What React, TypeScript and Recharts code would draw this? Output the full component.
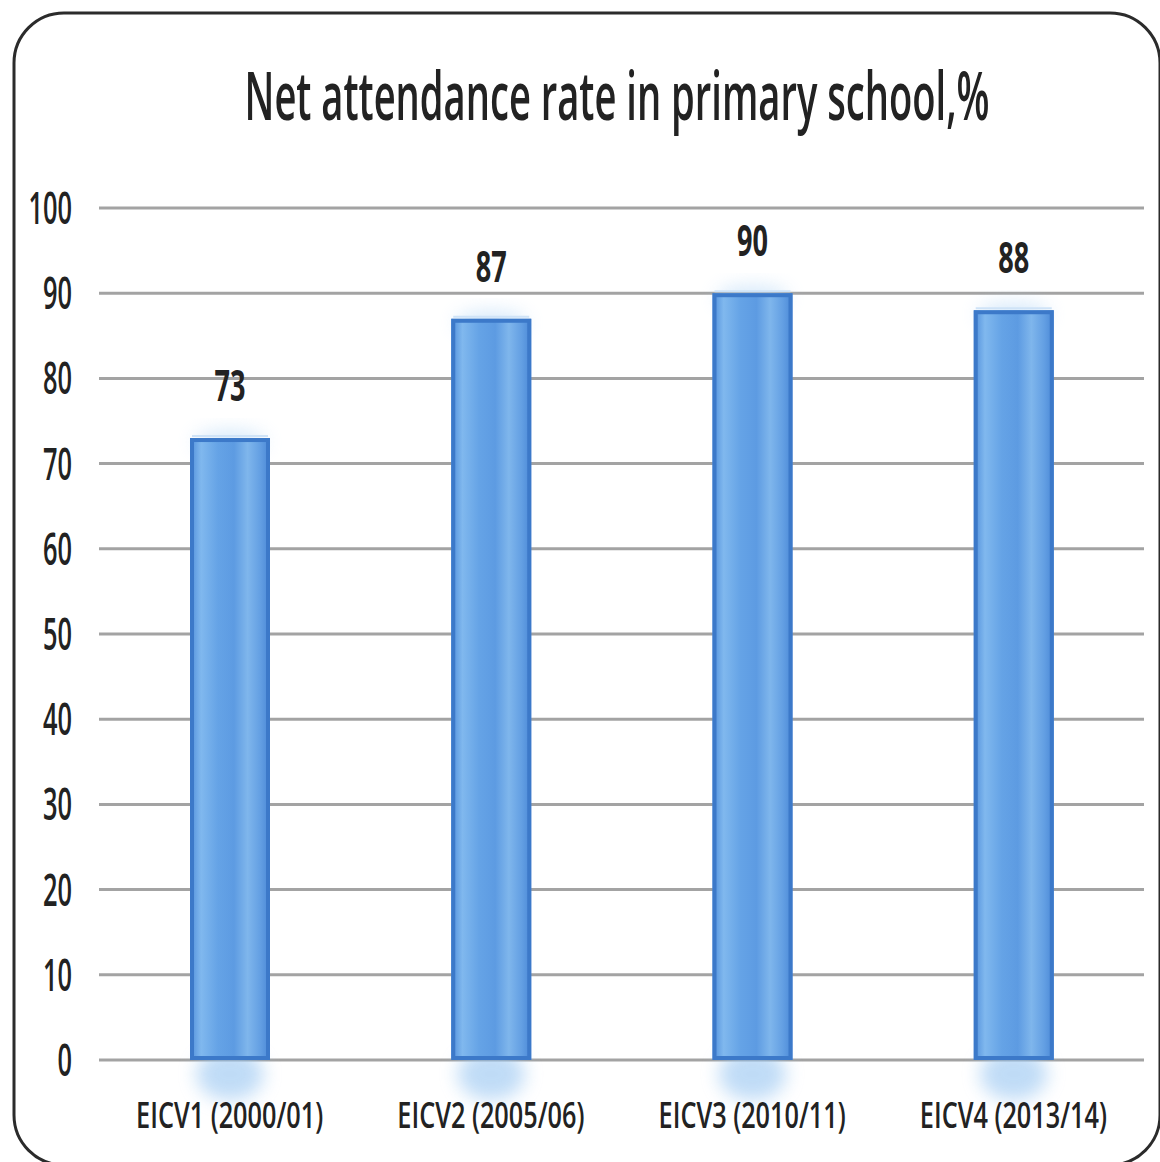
import React from 'react';
import { BarChart, Bar, XAxis, YAxis, CartesianGrid, LabelList } from 'recharts';

// survey rounds and net attendance rate (%)
const surveys = ['EICV1 (2000/01)', 'EICV2 (2005/06)', 'EICV3 (2010/11)', 'EICV4 (2013/14)'];
const attendance = [73, 87, 90, 88];
const yTicks = [0, 10, 20, 30, 40, 50, 60, 70, 80, 90, 100];

const data = surveys.map((name, i) => ({ name, value: attendance[i] }));

const FONT = '"Open Sans", Lato, sans-serif';
const INK = '#222';
const STRETCH = 1.8; // tall, narrow lettering

// text drawn at (x, y) baseline, stretched vertically
function TallText({ x, y, size, length, anchor = 'middle', weight = 600, children }: any) {
  return (
    <g transform={`translate(${x},${y}) scale(1,${STRETCH})`}>
      <text
        x={0}
        y={0}
        textAnchor={anchor}
        fontSize={size}
        fontWeight={weight}
        fill={INK}
        fontFamily={FONT}
        textLength={length}
        lengthAdjust="spacingAndGlyphs"
      >
        {children}
      </text>
    </g>
  );
}

function YTick({ x, y, payload }: any) {
  const label = String(payload.value);
  return (
    <TallText x={x} y={y + 16} size={25.5} length={label.length * 14.5} anchor="end">
      {label}
    </TallText>
  );
}

function XTick({ x, y, payload }: any) {
  const label = String(payload.value);
  return (
    <TallText x={x} y={y + 68} size={20.5} length={label.length * 12.47}>
      {label}
    </TallText>
  );
}

function ValueLabel({ x, y, width, value }: any) {
  const label = String(value);
  return (
    <TallText x={x + width / 2} y={y - 37} size={23.5} length={label.length * 15.5} weight={700}>
      {label}
    </TallText>
  );
}

// hand-drawn looking bar: soft glow at the foot, streaked fill, heavy outline
function SketchBar({ x, y, width, height }: any) {
  const cx = x + width / 2;
  const bottom = y + height;
  return (
    <g>
      <ellipse cx={cx} cy={bottom + 14} rx={width * 0.42} ry={26} fill="#8cbff0" opacity={0.55} filter="url(#haze)" />
      <ellipse cx={cx} cy={y + 4} rx={width * 0.45} ry={12} fill="#a9d0f5" opacity={0.45} filter="url(#haze)" />
      <rect x={x} y={y} width={width} height={height} fill="url(#barFill)" />
      <rect x={x + 2} y={y + 2} width={width - 4} height={height - 4} fill="none" stroke="#3c79c9" strokeWidth={4} />
      <line x1={x + 2} y1={y - 2} x2={x + width - 2} y2={y - 2} stroke="#cfe3f7" strokeWidth={2} />
    </g>
  );
}

export default function App() {
  return (
    <div style={{ position: 'absolute', left: 0, top: 0, width: 1160, height: 1162, background: '#fff' }}>
      <svg width={1160} height={1162} style={{ position: 'absolute', left: 0, top: 0 }}>
        <rect x={14} y={13} width={1146} height={1152} rx={50} fill="none" stroke="#2b2b2b" strokeWidth={3} />
        <TallText x={617} y={120} size={37} length={745}>
          Net attendance rate in primary school,%
        </TallText>
      </svg>
      <div style={{ position: 'absolute', left: 0, top: 0 }}>
        <BarChart
          width={1160}
          height={1162}
          data={data}
          margin={{ top: 208, right: 16, bottom: 42, left: 0 }}
          barSize={80}
        >
          <defs>
            <linearGradient id="barFill" x1="0" y1="0" x2="1" y2="0">
              <stop offset="0%" stopColor="#4f8edb" />
              <stop offset="14%" stopColor="#80b8ee" />
              <stop offset="35%" stopColor="#65a3e6" />
              <stop offset="55%" stopColor="#5d9be2" />
              <stop offset="72%" stopColor="#7fb6ec" />
              <stop offset="88%" stopColor="#639fe3" />
              <stop offset="100%" stopColor="#4a88d6" />
            </linearGradient>
            <filter id="haze" x="-50%" y="-50%" width="200%" height="200%">
              <feGaussianBlur stdDeviation="9" />
            </filter>
          </defs>
          <CartesianGrid vertical={false} stroke="#a3a3a3" strokeWidth={3} />
          <XAxis
            dataKey="name"
            axisLine={false}
            tickLine={false}
            tickSize={0}
            tickMargin={0}
            height={60}
            tick={<XTick />}
            interval={0}
          />
          <YAxis
            domain={[0, 100]}
            ticks={yTicks}
            axisLine={false}
            tickLine={false}
            tickSize={0}
            tickMargin={27}
            width={99}
            tick={<YTick />}
            interval={0}
          />
          <Bar dataKey="value" isAnimationActive={false} shape={(p: any) => <SketchBar {...p} />}>
            <LabelList dataKey="value" content={(p: any) => <ValueLabel {...p} />} />
          </Bar>
        </BarChart>
      </div>
    </div>
  );
}
